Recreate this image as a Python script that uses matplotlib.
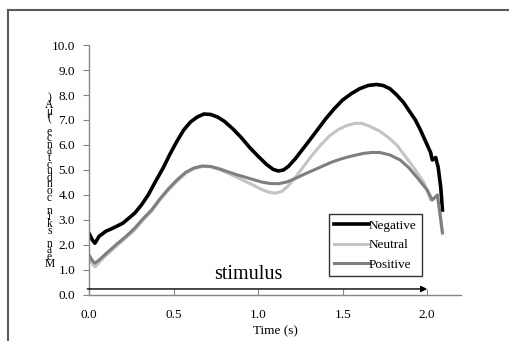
import matplotlib
matplotlib.use("Agg")
import matplotlib.pyplot as plt
from matplotlib.lines import Line2D

plt.rcParams['font.family'] = ['Liberation Serif', 'DejaVu Serif']

# time points (s) and mean skin conductance for each condition
t_neg = [0.0, 0.02, 0.035, 0.06, 0.1, 0.14, 0.2, 0.27, 0.31, 0.35, 0.39, 0.44,
         0.48, 0.52, 0.56, 0.60, 0.64, 0.68, 0.72, 0.76, 0.80, 0.85, 0.90, 0.95,
         1.00, 1.05, 1.09, 1.12, 1.15, 1.18, 1.22, 1.26, 1.30, 1.35, 1.40, 1.45,
         1.50, 1.55, 1.60, 1.65, 1.70, 1.74, 1.78, 1.82, 1.86, 1.90, 1.93, 1.96,
         1.98, 2.00, 2.02, 2.03, 2.05, 2.065, 2.08, 2.09]
negative = [2.47, 2.2, 2.07, 2.35, 2.55, 2.67, 2.87, 3.27, 3.6, 4.0, 4.5, 5.1,
            5.65, 6.15, 6.6, 6.92, 7.12, 7.24, 7.22, 7.12, 6.95, 6.65, 6.3, 5.9,
            5.55, 5.22, 5.02, 4.96, 5.0, 5.15, 5.45, 5.8, 6.15, 6.6, 7.05, 7.45,
            7.8, 8.05, 8.25, 8.38, 8.42, 8.38, 8.25, 8.0, 7.7, 7.3, 7.0, 6.6,
            6.3, 6.0, 5.7, 5.4, 5.5, 5.1, 4.3, 3.4]

t_neu = [0.0, 0.02, 0.035, 0.06, 0.095, 0.17, 0.22, 0.27, 0.32, 0.37, 0.42, 0.47,
         0.52, 0.57, 0.62, 0.67, 0.72, 0.77, 0.82, 0.87, 0.92, 0.97, 1.02, 1.06,
         1.10, 1.14, 1.18, 1.22, 1.27, 1.32, 1.37, 1.42, 1.47, 1.52, 1.57, 1.61,
         1.66, 1.72, 1.77, 1.82, 1.87, 1.92, 1.98, 2.02, 2.045, 2.06, 2.075, 2.09]
neutral = [1.45, 1.25, 1.12, 1.3, 1.55, 2.0, 2.3, 2.6, 3.0, 3.35, 3.8, 4.2,
           4.55, 4.85, 5.05, 5.14, 5.13, 5.02, 4.88, 4.72, 4.56, 4.4, 4.22, 4.12,
           4.07, 4.14, 4.38, 4.7, 5.15, 5.6, 6.0, 6.35, 6.6, 6.77, 6.86, 6.87,
           6.75, 6.55, 6.3, 6.0, 5.55, 5.1, 4.5, 3.8, 3.9, 4.0, 3.2, 2.45]

t_pos = [0.0, 0.02, 0.035, 0.06, 0.095, 0.17, 0.22, 0.27, 0.32, 0.37, 0.42, 0.47,
         0.52, 0.57, 0.62, 0.67, 0.72, 0.77, 0.82, 0.87, 0.92, 0.97, 1.02, 1.07,
         1.12, 1.17, 1.22, 1.27, 1.33, 1.38, 1.43, 1.48, 1.53, 1.58, 1.62, 1.67,
         1.72, 1.78, 1.84, 1.89, 1.94, 1.97, 2.0, 2.03, 2.045, 2.06, 2.075, 2.09]
positive = [1.6, 1.38, 1.27, 1.4, 1.62, 2.07, 2.35, 2.67, 3.05, 3.4, 3.85, 4.25,
            4.6, 4.9, 5.08, 5.16, 5.14, 5.05, 4.93, 4.82, 4.72, 4.62, 4.52, 4.46,
            4.45, 4.52, 4.66, 4.82, 5.0, 5.15, 5.3, 5.42, 5.52, 5.6, 5.66, 5.7,
            5.7, 5.6, 5.4, 5.1, 4.7, 4.45, 4.2, 3.8, 3.9, 4.0, 3.3, 2.5]

x_ticks = [0.0, 0.5, 1.0, 1.5, 2.0]
y_ticks = [0, 1, 2, 3, 4, 5, 6, 7, 8, 9, 10]
ylabel = "Mean skin conductance (μA)"

fig = plt.figure(figsize=(5.1, 3.41), dpi=100)
ax = fig.add_axes([0.1745, 0.135, 0.904 - 0.1745, 0.868 - 0.135])

ax.plot(t_neg, negative, color='black', lw=2.6, label='Negative')
ax.plot(t_neu, neutral, color='#c4c4c4', lw=2.2, label='Neutral')
ax.plot(t_pos, positive, color='#7f7f7f', lw=2.2, label='Positive')

ax.set_xlim(0, 2.2)
ax.set_ylim(0, 10)
ax.set_xticks(x_ticks)
ax.set_xticklabels([f"{v:.1f}" for v in x_ticks])
ax.set_yticks(y_ticks)
ax.set_yticklabels([f"{v:.1f}" for v in y_ticks])
for s in ['top', 'right']:
    ax.spines[s].set_visible(False)
for s in ['left', 'bottom']:
    ax.spines[s].set_color('#868686')
    ax.spines[s].set_linewidth(1.0)
ax.tick_params(axis='x', direction='in', length=4, color='#868686', labelsize=9.5, pad=10)
ax.tick_params(axis='y', direction='out', length=4, color='#868686', labelsize=9.5, pad=6)
ax.set_xlabel("Time (s)", fontsize=9.5, labelpad=3)

# stimulus arrow
ax.annotate('', xy=(2.0, 0.24), xytext=(-0.01, 0.24),
            arrowprops=dict(arrowstyle='-|>', color='black', lw=1.0,
                            mutation_scale=9, shrinkA=0, shrinkB=0),
            annotation_clip=False)
ax.text(0.94, 0.8, "stimulus", fontsize=14.5, ha='center', va='center')

leg = ax.legend(loc='lower left', bbox_to_anchor=(0.645, 0.076), fontsize=9.5,
                frameon=True, fancybox=False, handlelength=2.6, handletextpad=0.0,
                borderpad=0.4, labelspacing=0.55, borderaxespad=0)
leg.get_frame().set_edgecolor('black')
leg.get_frame().set_linewidth(1.0)

# stacked y label as in the original rendering (last character on top)
fig.text(0.097, 0.469, "\n".join(reversed(ylabel)), fontsize=8.3,
         ha='center', va='center', linespacing=0.4)

# outer frame (top and left)
fig.add_artist(Line2D([8 / 510, 1.0], [1 - 10 / 341, 1 - 10 / 341],
                      color='#5a5a5a', lw=1.5, transform=fig.transFigure))
fig.add_artist(Line2D([8 / 510, 8 / 510], [0.0, 1 - 10 / 341],
                      color='#5a5a5a', lw=1.5, transform=fig.transFigure))

fig.savefig("out.png", dpi=100)
